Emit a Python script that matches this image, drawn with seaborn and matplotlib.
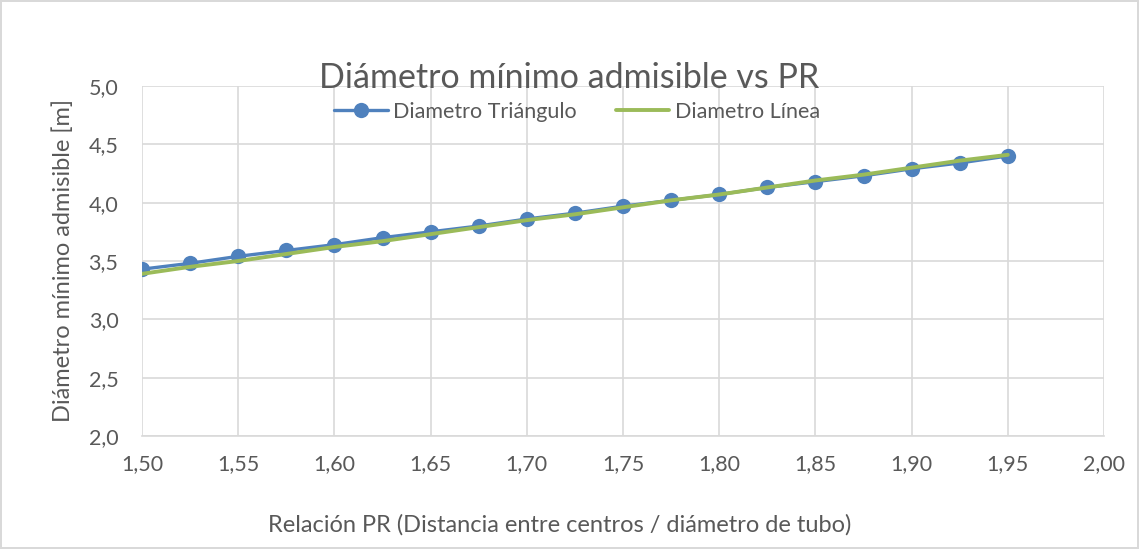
import matplotlib
matplotlib.use("Agg")
import matplotlib.pyplot as plt
from matplotlib.ticker import FuncFormatter, MultipleLocator
import seaborn as sns
import pandas as pd

pr = [1.500, 1.525, 1.550, 1.575, 1.600, 1.625, 1.650, 1.675, 1.700, 1.725,
      1.750, 1.775, 1.800, 1.825, 1.850, 1.875, 1.900, 1.925, 1.950]
diam_triangulo = [3.43, 3.48, 3.54, 3.59, 3.64, 3.70, 3.75, 3.80, 3.86, 3.91,
                  3.97, 4.02, 4.07, 4.13, 4.18, 4.23, 4.29, 4.34, 4.40]
diam_linea = [3.39, 3.45, 3.50, 3.56, 3.62, 3.67, 3.73, 3.79, 3.85, 3.90,
              3.96, 4.02, 4.07, 4.13, 4.19, 4.24, 4.30, 4.36, 4.41]

serie_tri = "Diametro Triángulo"
serie_lin = "Diametro Línea"

df = pd.DataFrame({"PR": pr, serie_tri: diam_triangulo, serie_lin: diam_linea})

sns.set_style("white")
plt.rcParams["font.family"] = ["Lato", "DejaVu Sans"]
txt = "#595959"
grid = "#d9d9d9"

fig = plt.figure(figsize=(11.39, 5.49), dpi=100)
fig.patch.set_edgecolor("#d9d9d9")
fig.patch.set_linewidth(1.5)
ax = fig.add_axes([0.1247, 0.2058, 0.8446, 0.6376])

sns.lineplot(data=df, x="PR", y=serie_tri, ax=ax, color="#4f81bd", lw=2.4,
             marker="o", markersize=11, markeredgewidth=0, label=serie_tri, zorder=3)
sns.lineplot(data=df, x="PR", y=serie_lin, ax=ax, color="#9bbb59", lw=2.8,
             label=serie_lin, zorder=4)

ax.set_xlim(1.50, 2.00)
ax.set_ylim(2.0, 5.0)
ax.xaxis.set_major_locator(MultipleLocator(0.05))
ax.yaxis.set_major_locator(MultipleLocator(0.5))
ax.xaxis.set_major_formatter(FuncFormatter(lambda v, p: f"{v:.2f}".replace(".", ",")))
ax.yaxis.set_major_formatter(FuncFormatter(lambda v, p: f"{v:.1f}".replace(".", ",")))
ax.grid(True, color=grid, lw=1.2)
ax.set_axisbelow(True)
for s in ["top", "right", "left"]:
    ax.spines[s].set_visible(False)
ax.spines["bottom"].set_color(grid)
ax.spines["bottom"].set_linewidth(1.2)
ax.tick_params(axis="x", length=0, labelsize=15.5, labelcolor=txt, pad=13)
ax.tick_params(axis="y", length=0, labelsize=15.5, labelcolor=txt, pad=17)

fig.text(0.5, 1 - 78 / 549, "Diámetro mínimo admisible vs PR", fontsize=24.5, color=txt,
         ha="center", va="center")
ax.set_xlabel("Relación PR (Distancia entre centros / diámetro de tubo)",
              fontsize=17, color=txt)
ax.xaxis.set_label_coords((560 - 142) / 962, -0.222)
ax.set_ylabel("Diámetro mínimo admisible [m]", fontsize=17, color=txt)
ax.yaxis.set_label_coords(-(142 - 74) / 962, 0.5)

ax.get_legend().remove()
handles, labels = ax.get_legend_handles_labels()
leg = fig.legend(handles, labels, loc="center", bbox_to_anchor=(577 / 1139, 1 - 112 / 549),
                 ncol=2, frameon=False, fontsize=15.5, handlelength=2.5,
                 columnspacing=1.8, handletextpad=0.25)
for t in leg.get_texts():
    t.set_color(txt)

fig.savefig("out.png", dpi=100)
